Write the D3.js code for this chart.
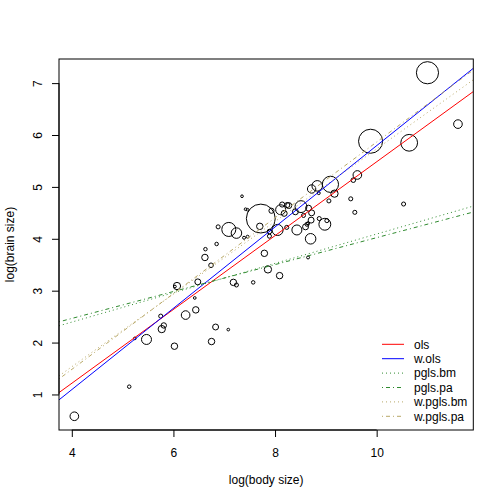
<!DOCTYPE html>
<html lang="en">
<head>
    <meta charset="UTF-8">
    <title>brain vs body</title>
    <style>
        body { margin: 0; background: #fff; }
        svg text { font-family: "Liberation Sans", Arial, Helvetica, sans-serif; font-size: 12px; fill: #000; }
    </style>
</head>
<body>
    <svg id="svg_main" width="504" height="504"></svg>
    <script src="https://d3js.org/d3.v7.min.js"></script>
    <script>
        // species values
        const bodySize = [4.05, 5.13, 5.24, 5.47, 6.02, 5.75, 5.77, 5.81, 6.24, 6.44,
                          6.42, 6.07, 6.03, 6.48, 6.75, 6.83, 7.08, 7.18, 7.24, 6.74,
                          6.62, 6.63, 6.85, 6.88, 7.09, 7.24, 7.35, 7.42, 7.46, 7.39,
                          7.46, 7.72, 7.70, 7.79, 7.86, 8.09, 7.57, 7.93, 8.11, 8.14,
                          8.24, 8.18, 8.05, 8.23, 7.89, 7.89, 8.43, 8.51, 8.27, 8.66,
                          8.72, 8.40, 8.56, 8.60, 8.63, 8.65, 8.71, 8.98, 8.87, 9.02,
                          8.70, 8.65, 9.09, 8.83, 8.72, 8.86, 9.17, 9.06, 9.49, 9.57,
                          9.62, 9.54, 9.88, 10.64, 10.53, 11.00, 11.60];
        const brainSize = [0.58, 1.15, 2.08, 2.06, 1.93, 2.51, 2.26, 2.33, 2.53, 2.63,
                           2.86, 3.09, 3.08, 3.17, 2.02, 2.30, 2.25, 3.16, 3.11, 3.49,
                           3.64, 3.80, 3.90, 4.23, 4.18, 4.11, 4.82, 4.57, 4.56, 4.02,
                           4.04, 4.39, 4.24, 3.72, 3.41, 3.29, 3.16, 4.54, 4.56, 4.66,
                           4.65, 4.49, 4.17, 4.22, 4.14, 4.05, 4.17, 4.62, 4.64, 4.59,
                           4.50, 4.52, 4.45, 4.23, 4.28, 4.30, 4.36, 4.28, 4.39, 4.35,
                           4.00, 3.64, 5.05, 5.02, 4.96, 4.88, 4.87, 4.73, 4.77, 4.51,
                           5.23, 5.13, 5.88, 5.85, 4.67, 7.20, 6.21];
        // symbol weights (cex)
        const weights = [1.6, 0.65, 0.5, 1.85, 1.2, 0.75, 1.35, 1.0, 1.6, 1.2,
                         0.5, 1.35, 0.5, 1.1, 1.2, 1.1, 0.5, 1.2, 0.75, 0.85,
                         1.2, 0.65, 0.65, 0.75, 2.6, 1.95, 0.5, 0.5, 0.5, 0.55,
                         0.55, 5.35, 1.2, 1.2, 1.35, 1.2, 0.65, 0.95, 1.85, 0.95,
                         0.95, 1.1, 2.05, 0.75, 0.85, 0.75, 1.85, 2.2, 1.1, 1.1,
                         1.1, 1.1, 0.75, 1.1, 0.75, 0.55, 1.1, 2.2, 0.75, 0.75,
                         1.95, 0.55, 3.0, 1.95, 1.55, 0.55, 1.35, 0.75, 0.75, 0.75,
                         1.6, 0.85, 4.45, 3.1, 0.75, 4.1, 1.6];

        // fitted lines
        const fitNames = ["ols", "w.ols", "pgls.bm", "pgls.pa", "w.pgls.bm", "w.pgls.pa"];
        const intercepts = [-1.630, -2.041, 1.263, 1.427, -1.265, -1.438];
        const slopes = [0.7114, 0.7836, 0.2829, 0.2595, 0.6998, 0.7303];
        const fitColours = ["red", "blue", "#2f8a2f", "#2f8a2f", "#b8a868", "#b8a868"];
        const fitDashes = [null, null, "1,3", "1,3,4,3", "1,3", "1,3,4,3"];

        const xTicks = [4, 6, 8, 10];
        const yTicks = [1, 2, 3, 4, 5, 6, 7];

        const W = 504, H = 504;
        const plot = {left: 59, right: 473.3, top: 59, bottom: 430};

        const svg = d3.select('#svg_main');
        svg.append('rect').attr('width', W).attr('height', H).attr('fill', '#fff');

        // R style: data range padded by 4% each side
        function pad(ext) {
            const d = (ext[1] - ext[0]) * 0.04;
            return [ext[0] - d, ext[1] + d];
        }
        const x = d3.scaleLinear().domain(pad(d3.extent(bodySize))).range([plot.left, plot.right]);
        const y = d3.scaleLinear().domain(pad(d3.extent(brainSize))).range([plot.bottom, plot.top]);
        const r = d3.scaleLinear().domain([0, 1]).range([0, 2.7]);

        svg.append('clipPath').attr('id', 'clip')
            .append('rect')
            .attr('x', plot.left).attr('y', plot.top)
            .attr('width', plot.right - plot.left).attr('height', plot.bottom - plot.top);

        // points
        const pts = d3.range(bodySize.length);
        svg.append('g')
            .selectAll('circle')
            .data(pts)
            .join('circle')
            .attr('cx', i => x(bodySize[i]))
            .attr('cy', i => y(brainSize[i]))
            .attr('r', i => r(weights[i]))
            .attr('fill', 'none')
            .attr('stroke', '#000')
            .attr('stroke-width', 1);

        // ablines
        const xd = x.domain();
        svg.append('g').attr('clip-path', 'url(#clip)')
            .selectAll('line')
            .data(fitNames)
            .join('line')
            .attr('x1', x(xd[0]))
            .attr('x2', x(xd[1]))
            .attr('y1', (d, i) => y(intercepts[i] + slopes[i] * xd[0]))
            .attr('y2', (d, i) => y(intercepts[i] + slopes[i] * xd[1]))
            .attr('stroke', (d, i) => fitColours[i])
            .attr('stroke-width', 1)
            .attr('stroke-dasharray', (d, i) => fitDashes[i]);

        // box
        svg.append('rect')
            .attr('x', plot.left).attr('y', plot.top)
            .attr('width', plot.right - plot.left).attr('height', plot.bottom - plot.top)
            .attr('fill', 'none').attr('stroke', '#000');

        // x axis
        const gx = svg.append('g')
            .attr('transform', `translate(0,${plot.bottom})`)
            .call(d3.axisBottom(x).tickValues(xTicks).tickSize(7).tickFormat(d3.format('d')));
        gx.select('.domain').remove();
        gx.selectAll('text').attr('y', 26.5).attr('dy', null)
            .attr('font-family', null).attr('font-size', null);
        gx.append('line')
            .attr('x1', x(xTicks[0])).attr('x2', x(xTicks[xTicks.length - 1]))
            .attr('stroke', '#000');

        // y axis
        const gy = svg.append('g')
            .attr('transform', `translate(${plot.left},0)`)
            .call(d3.axisLeft(y).tickValues(yTicks).tickSize(7).tickFormat(d3.format('d')));
        gy.select('.domain').remove();
        gy.selectAll('.tick text')
            .attr('x', null).attr('dy', null)
            .attr('text-anchor', 'middle')
            .attr('transform', 'translate(-17,0) rotate(-90)')
            .attr('font-family', null).attr('font-size', null);
        gy.append('line')
            .attr('y1', y(yTicks[0])).attr('y2', y(yTicks[yTicks.length - 1]))
            .attr('stroke', '#000');
        gx.attr('font-family', null).attr('font-size', null);
        gy.attr('font-family', null).attr('font-size', null);

        // axis titles
        svg.append('text')
            .attr('x', (plot.left + plot.right) / 2).attr('y', 484)
            .attr('text-anchor', 'middle')
            .text('log(body size)');
        svg.append('text')
            .attr('transform', `translate(14,${(plot.top + plot.bottom) / 2}) rotate(-90)`)
            .attr('text-anchor', 'middle')
            .text('log(brain size)');

        // legend, no box
        const leg = svg.append('g');
        const rowY = d3.scaleLinear().domain([0, 1]).range([344.3, 358.7]);
        fitNames.forEach(function (name, i) {
            leg.append('line')
                .attr('x1', 382).attr('x2', 404)
                .attr('y1', rowY(i)).attr('y2', rowY(i))
                .attr('stroke', fitColours[i])
                .attr('stroke-dasharray', fitDashes[i]);
            leg.append('text')
                .attr('x', 414).attr('y', rowY(i)).attr('dy', '0.35em')
                .text(name);
        });
    </script>
</body>
</html>
